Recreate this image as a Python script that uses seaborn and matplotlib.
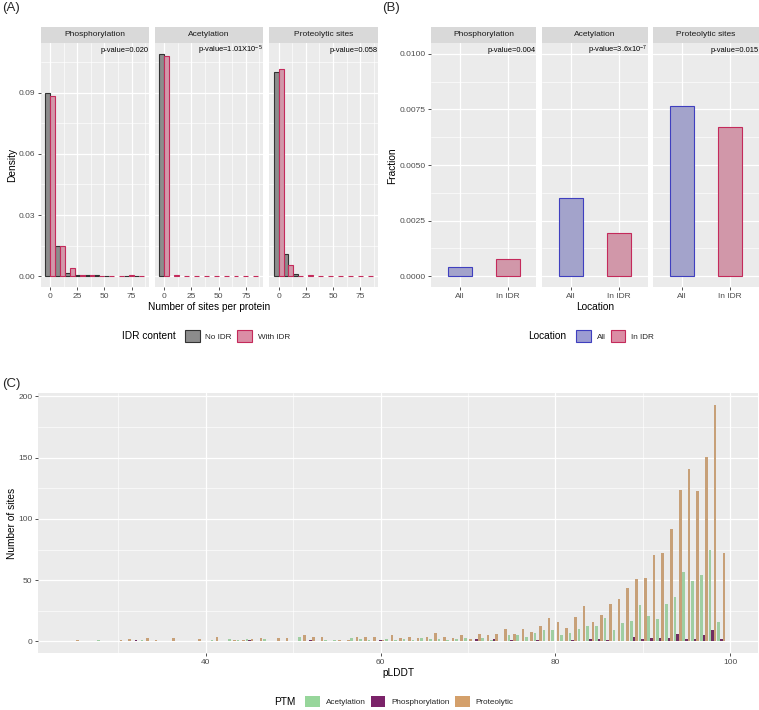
import numpy as np
import pandas as pd
import seaborn as sns
import matplotlib
import matplotlib.pyplot as plt
import matplotlib.patches as mpatches
from matplotlib.ticker import MultipleLocator, FormatStrFormatter

W, H = 759, 710

#Panel A: density of sites per protein (histogram bins)
binCenters = [0, 9.1, 18.2, 27.3, 36.4, 45.5, 54.6, 63.7, 72.8, 81.9]
facetNames = ['Phosphorylation', 'Acetylation', 'Proteolytic sites']
phosNoIdr = [0.0897, 0.0148, 0.0016, 0.0007, 0.0005, 0.0004, 0.0002, 0, 0.0003, 0.0002]
phosWithIdr = [0.0882, 0.0148, 0.0039, 0.0008, 0.0005, 0.0002, 0, 0, 0.0006, 0]
acetNoIdr = [0.1090, 0, 0, 0, 0, 0, 0, 0, 0, 0]
acetWithIdr = [0.1082, 0.0008, 0, 0, 0, 0, 0, 0, 0, 0]
protNoIdr = [0.1000, 0.0107, 0.0012, 0, 0, 0, 0, 0, 0, 0]
protWithIdr = [0.1018, 0.0056, 0, 0.0007, 0, 0, 0, 0, 0, 0]
pValuesA = ['p-value=0.020', r'p-value=1.01X10$^{-5}$', 'p-value=0.058']

#Panel B: fraction of sites by location
locations = ['All', 'In IDR']
fracAll = [0.00043, 0.00351, 0.00765]
fracIdr = [0.00079, 0.00194, 0.00670]
pValuesB = ['p-value=0.004', r'p-value=3.6x10$^{-7}$', 'p-value=0.015']

#Panel C: number of sites per pLDDT
ptmNames = ['Acetylation', 'Phosphorylation', 'Proteolytic']
plddt = [25, 28, 30, 31, 32, 33, 34, 36, 39, 41, 43, 44, 45, 46, 47, 48, 49, 51, 52, 53,
         54, 55, 56, 57, 58, 59, 60, 61, 62, 63, 64, 65, 66, 67, 68, 69, 70, 71, 72, 73,
         74, 75, 76, 77, 78, 79, 80, 81, 82, 83, 84, 85, 86, 87, 88, 89, 90, 91, 92, 93,
         94, 95, 96, 97, 98, 99]
acetCounts = [0, 1, 0, 0, 0, 1, 0, 0, 0, 1, 2, 1, 2, 0, 2, 0, 0, 4, 0, 0,
              1, 1, 0, 3, 2, 1, 0, 2, 1, 2, 1, 3, 2, 2, 1, 2, 3, 0, 3, 1,
              0, 5, 5, 4, 7, 9, 9, 5, 7, 10, 13, 13, 19, 9, 15, 17, 30, 21, 18, 31,
              36, 57, 49, 54, 75, 16]
phosCounts = [0, 0, 0, 0, 1, 0, 0, 0, 0, 0, 0, 0, 1, 0, 0, 0, 0, 0, 1, 0,
              0, 0, 0, 0, 0, 0, 1, 0, 0, 0, 0, 0, 0, 0, 0, 0, 0, 2, 0, 2,
              0, 1, 0, 0, 1, 0, 0, 0, 1, 0, 2, 2, 1, 0, 0, 4, 2, 3, 3, 3,
              6, 2, 2, 5, 9, 2]
protCounts = [1, 0, 1, 2, 0, 3, 1, 3, 2, 4, 1, 1, 2, 3, 0, 3, 3, 5, 4, 4,
              0, 1, 1, 4, 4, 4, 1, 5, 3, 4, 3, 4, 7, 4, 3, 5, 2, 6, 5, 6,
              10, 6, 10, 8, 13, 19, 16, 11, 20, 29, 16, 22, 31, 35, 44, 51, 52, 71, 72, 92,
              124, 141, 123, 151, 193, 72]

#Plot params
sns.set_theme(style='darkgrid', rc={'axes.facecolor': '#EBEBEB', 'grid.color': 'white'})
plt.rcParams['font.family'] = ['Liberation Sans', 'DejaVu Sans']
plt.rcParams['mathtext.fontset'] = 'custom'
plt.rcParams['mathtext.rm'] = 'Liberation Sans'
plt.rcParams['mathtext.it'] = 'Liberation Sans:italic'

idrColors = {'No IDR': '#8C8C8C', 'With IDR': '#DB8DA5'}
idrEdges = ['#333333', '#C42A5B']
locColors = {'All': '#9C9CD2', 'In IDR': '#DB8DA5'}
locEdges = ['#3F3FBF', '#C42A5B']
ptmColors = {'Acetylation': '#97D69B', 'Phosphorylation': '#7B2369', 'Proteolytic': '#D4A06B'}


def axRect(x0, y0, x1, y1):
    return [x0 / W, 1 - y1 / H, (x1 - x0) / W, (y1 - y0) / H]


def styleAxes(ax):
    for s in ax.spines.values():
        s.set_visible(False)
    ax.grid(which='major', color='white', lw=0.9)
    ax.grid(which='minor', color='white', lw=0.45)
    ax.set_axisbelow(True)
    ax.tick_params(which='major', length=2.5, width=0.6, color='#333333', labelsize=6,
                   labelcolor='#4D4D4D', pad=1.5, bottom=True, left=True)
    ax.tick_params(which='minor', length=0)
    ax.set_xlabel('')
    ax.set_ylabel('')


def addStrip(fig, x0, x1, label):
    sax = fig.add_axes(axRect(x0, 26.7, x1, 42.7))
    sax.set_facecolor('#D9D9D9')
    sax.grid(False)
    sax.set_xticks([])
    sax.set_yticks([])
    for s in sax.spines.values():
        s.set_visible(False)
    sax.text(0.5, 0.5, label, ha='center', va='center', fontsize=6, color='#1A1A1A',
             transform=sax.transAxes)


fig = plt.figure(figsize=(W / 100, H / 100), dpi=100)

#(A) histograms
aPanelsX = [(40.7, 149), (155, 263.3), (269.3, 377.7)]
aNo = [phosNoIdr, acetNoIdr, protNoIdr]
aWith = [phosWithIdr, acetWithIdr, protWithIdr]
for i, name in enumerate(facetNames):
    x0, x1 = aPanelsX[i]
    ax = fig.add_axes(axRect(x0, 42.7, x1, 287.3))
    df = pd.DataFrame({'bin': binCenters * 2,
                       'density': aNo[i] + aWith[i],
                       'idr': ['No IDR'] * len(binCenters) + ['With IDR'] * len(binCenters)})
    df = df[~((df.idr == 'No IDR') & (df.density == 0))]
    sns.barplot(data=df, x='bin', y='density', hue='idr', hue_order=['No IDR', 'With IDR'],
                palette=idrColors, native_scale=True, width=1.0, errorbar=None,
                legend=False, linewidth=0.8, ax=ax)
    for cont, edge in zip(ax.containers, idrEdges):
        for bar in cont:
            bar.set_edgecolor(edge)
    styleAxes(ax)
    ax.set_xlim(-8.55, 91.1)
    ax.set_ylim(-0.00545, 0.1145)
    ax.xaxis.set_major_locator(MultipleLocator(25))
    ax.xaxis.set_minor_locator(MultipleLocator(12.5))
    ax.set_xticks([0, 25, 50, 75])
    ax.set_yticks([0, 0.03, 0.06, 0.09])
    ax.yaxis.set_minor_locator(MultipleLocator(0.015))
    ax.yaxis.set_major_formatter(FormatStrFormatter('%.2f'))
    if i > 0:
        ax.tick_params(axis='y', left=False, labelleft=False)
    ax.text(0.995, 0.97, pValuesA[i], transform=ax.transAxes, ha='right', va='center',
            fontsize=5.4, color='black')
    addStrip(fig, x0, x1, name)

#(B) bars
bPanelsX = [(431, 536.3), (542.3, 647.7), (653.3, 758.7)]
for i, name in enumerate(facetNames):
    x0, x1 = bPanelsX[i]
    ax = fig.add_axes(axRect(x0, 42.7, x1, 287.3))
    df = pd.DataFrame({'location': locations, 'fraction': [fracAll[i], fracIdr[i]]})
    sns.barplot(data=df, x='location', y='fraction', hue='location', order=locations,
                hue_order=locations, palette=locColors, width=0.5, errorbar=None,
                legend=False, linewidth=0.8, ax=ax)
    for bar, edge in zip(ax.patches, locEdges):
        bar.set_edgecolor(edge)
    styleAxes(ax)
    ax.set_xlim(-0.6, 1.6)
    ax.set_ylim(-0.0005, 0.0105)
    ax.set_yticks([0, 0.0025, 0.005, 0.0075, 0.01])
    ax.yaxis.set_minor_locator(MultipleLocator(0.00125))
    ax.yaxis.set_major_formatter(FormatStrFormatter('%.4f'))
    if i > 0:
        ax.tick_params(axis='y', left=False, labelleft=False)
    ax.text(0.995, 0.97, pValuesB[i], transform=ax.transAxes, ha='right', va='center',
            fontsize=5.4, color='black')
    addStrip(fig, x0, x1, name)

#(C) pLDDT
cDf = pd.DataFrame({'plddt': plddt * 3,
                    'count': acetCounts + phosCounts + protCounts,
                    'ptm': [ptmNames[0]] * len(plddt) + [ptmNames[1]] * len(plddt) + [ptmNames[2]] * len(plddt)})
ax = fig.add_axes(axRect(38, 393.3, 758, 653.3))
sns.barplot(data=cDf, x='plddt', y='count', hue='ptm', hue_order=ptmNames, palette=ptmColors,
            native_scale=True, width=0.9, errorbar=None, legend=False, linewidth=0, ax=ax)
styleAxes(ax)
ax.set_xlim(20.8, 103.2)
ax.set_ylim(-9.65, 202.6)
ax.set_xticks([40, 60, 80, 100])
ax.xaxis.set_minor_locator(MultipleLocator(10))
ax.set_yticks([0, 50, 100, 150, 200])
ax.yaxis.set_minor_locator(MultipleLocator(25))

#Axis titles and panel labels
titleKw = dict(fontsize=7.3, color='black')
fig.text(209 / W, 1 - 307 / H, 'Number of sites per protein', ha='center', va='center', **titleKw)
fig.text(12 / W, 1 - 165 / H, 'Density', ha='center', va='center', rotation=90, **titleKw)
fig.text(595 / W, 1 - 307 / H, 'Location', ha='center', va='center', **titleKw)
fig.text(392.5 / W, 1 - 165.7 / H, 'Fraction', ha='center', va='center', rotation=90, **titleKw)
fig.text(398 / W, 1 - 673.3 / H, 'pLDDT', ha='center', va='center', **titleKw)
fig.text(11.7 / W, 1 - 523 / H, 'Number of sites', ha='center', va='center', rotation=90, **titleKw)
fig.text(2 / W, 1 - 8 / H, '(A)', ha='left', va='center', fontsize=9.5)
fig.text(382 / W, 1 - 8 / H, '(B)', ha='left', va='center', fontsize=9.5)
fig.text(2 / W, 1 - 384 / H, '(C)', ha='left', va='center', fontsize=9.5)

#Legends
legKw = dict(loc='center left', frameon=False, fontsize=5.9, handlelength=1.8, handleheight=1.8,
             handletextpad=0.7, columnspacing=0.65, borderpad=0, borderaxespad=0)
idrHandles = [mpatches.Patch(facecolor=idrColors[k], edgecolor=e, linewidth=0.8)
              for k, e in zip(['No IDR', 'With IDR'], idrEdges)]
fig.legend(idrHandles, ['No IDR', 'With IDR'], ncol=2, bbox_to_anchor=(185 / W, 1 - 336 / H), **legKw)
fig.text(121.7 / W, 1 - 336 / H, 'IDR content', ha='left', va='center', **titleKw)

locHandles = [mpatches.Patch(facecolor=locColors[k], edgecolor=e, linewidth=0.8)
              for k, e in zip(locations, locEdges)]
fig.legend(locHandles, locations, ncol=2, bbox_to_anchor=(576 / W, 1 - 336 / H), **legKw)
fig.text(528 / W, 1 - 336 / H, 'Location', ha='left', va='center', **titleKw)

ptmHandles = [mpatches.Patch(facecolor=ptmColors[k], linewidth=0) for k in ptmNames]
fig.legend(ptmHandles, ptmNames, ncol=3, bbox_to_anchor=(305 / W, 1 - 701.7 / H), **legKw)
fig.text(274 / W, 1 - 701.7 / H, 'PTM', ha='left', va='center', **titleKw)

plt.savefig('out.png', dpi=100)
